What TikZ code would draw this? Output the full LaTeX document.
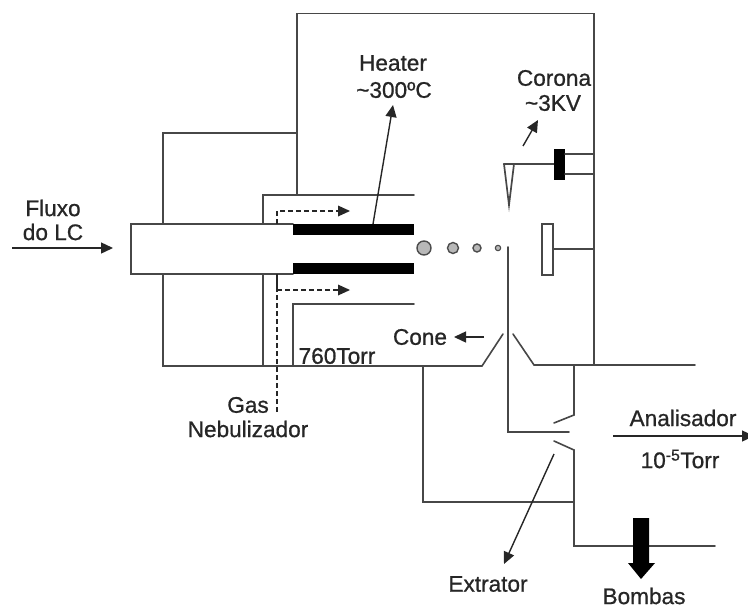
\documentclass[tikz,border=0pt]{standalone}
\usepackage{fontspec}
\setmainfont[FakeBold=0.8]{Liberation Sans}
\usetikzlibrary{arrows.meta}
\definecolor{ln}{gray}{0.28}
\tikzset{
  wall/.style={draw=ln,line width=1.6pt,line cap=round,line join=miter},
  lbl/.style={inner sep=0pt,font=\fontsize{22.6}{24}\selectfont,text=black!85},
  arr/.style={draw=black!85,line width=1.4pt,-{Triangle[length=12pt,width=11pt]}},
  dashline/.style={draw=black!85,line width=1.2pt,dash pattern=on 5pt off 3pt},
  drop/.style={draw=black!70,fill=black!28,line width=1.4pt},
  solid black/.style={fill=black,draw=none}
}
\begin{document}
\begin{tikzpicture}[x=1pt,y=-1pt]
\useasboundingbox (0,0) rectangle (748,605);
% housing
\draw[wall] (297,195) -- (297,13.5) -- (594,13.5) -- (594,365);
\draw[wall] (297,133) -- (163,133) -- (163,224);
\draw[wall] (163,274) -- (163,366) -- (482,366) -- (503,334);
\draw[wall] (513,334) -- (534,365) -- (695,365);
% inner channel
\draw[wall] (414,195) -- (263,195) -- (263,224);
\draw[wall] (263,274) -- (263,366);
\draw[wall] (414,304) -- (293,304) -- (293,366);
% capillary
\draw[wall] (293,224) -- (131,224) -- (131,274) -- (293,274);
\fill[solid black] (293,224) rectangle (414,235);
\fill[solid black] (293,263) rectangle (414,274);
% dashed gas
\draw[dashline] (277,412) -- (277,274);
\draw[dashline] (277,274) -- (277,290) -- (338,290);
\draw[dashline] (277,224) -- (277,211) -- (338,211);
\fill[black!85] (350,211) -- (338,205.5) -- (338,216.5) -- cycle;
\fill[black!85] (350,290) -- (338,284.5) -- (338,295.5) -- cycle;
% droplets
\draw[drop] (424,248) circle (7);
\draw[drop] (453,248) circle (5.5);
\draw[drop] (477,248) circle (4);
\draw[drop,line width=1.1pt] (498,248) circle (2.7);
% skimmer
\draw[wall] (508,247) -- (508,432) -- (569,432);
% corona
\draw[wall,line width=2.2pt] (504,164) -- (555,164);
\draw[wall,line width=1.7pt] (504,164) -- (509,205) -- (514,164);
\fill[solid black] (554,149) rectangle (565,180);
\draw[wall] (565,154) -- (594,154);
\draw[wall] (565,174) -- (594,174);
% plate
\draw[wall] (542,224) rectangle (553,275);
\draw[wall] (553,249) -- (594,249);
% vacuum
\draw[wall] (574,365) -- (574,415) -- (554,423);
\draw[wall] (554,441) -- (574,450) -- (574,546) -- (715,546);
\draw[wall] (423,366) -- (423,502) -- (574,502);
% pump arrow
\fill[solid black] (633,518) -- (649,518) -- (649,563) -- (655,563) -- (641,579) -- (628,563) -- (633,563) -- cycle;
% arrows
\coordinate (hS) at (373,224); \coordinate (hE) at (393,105);
\coordinate (cS) at (523,146); \coordinate (cE) at (538,120);
\coordinate (fS) at (12,248); \coordinate (fE) at (113,248);
\coordinate (oS) at (484,337); \coordinate (oE) at (454,337);
\coordinate (aS) at (613,436); \coordinate (aE) at (754,436);
\coordinate (xS) at (554,454); \coordinate (xE) at (504,564);
\draw[arr] (hS) -- (hE);
\draw[arr] (cS) -- (cE);
\draw[arr] (fS) -- (fE);
\draw[arr] (oS) -- (oE);
\draw[arr] (aS) -- (aE);
\draw[arr] (xS) -- (xE);
% labels
\node[lbl] (heater) at (393,63) {Heater};
\node[lbl] (temp) at (394,90) {\char"007E 300ºC};
\node[lbl] (corona) at (554,78) {Corona};
\node[lbl] (kv) at (553,103) {\char"007E 3KV};
\node[lbl] (fluxo) at (53,208) {Fluxo};
\node[lbl] (dolc) at (53,232) {do LC};
\node[lbl] (gas) at (248,405) {Gas};
\node[lbl] (neb) at (248,429) {Nebulizador};
\node[lbl] (torr) at (337,356) {760Torr};
\node[lbl] (cone) at (420,337) {Cone};
\node[lbl] (anal) at (683,418) {Analisador};
\node[lbl] (vac) at (680,459) {10\textsuperscript{-5}Torr};
\node[lbl] (ext) at (488,584) {Extrator};
\node[lbl] (bomb) at (644,596) {Bombas};
\end{tikzpicture}
\end{document}
